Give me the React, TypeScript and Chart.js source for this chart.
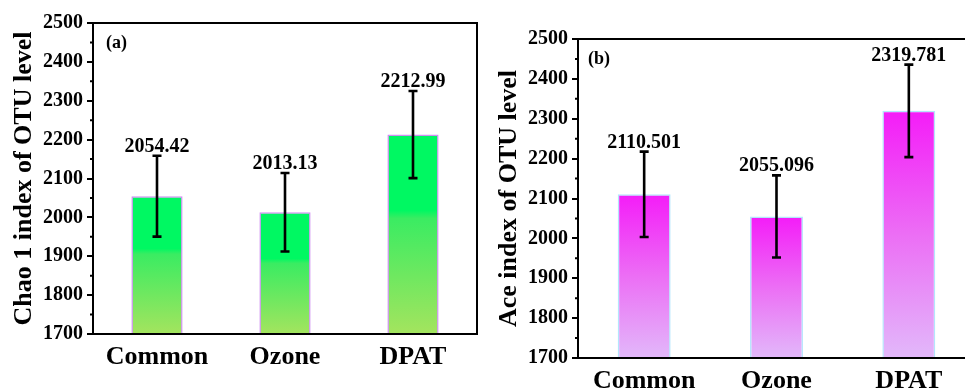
import React, { useEffect, useRef } from 'react';
import { Chart, registerables } from 'chart.js';
Chart.register(...registerables);

const categories = ['Common', 'Ozone', 'DPAT'];
const chaoValues = [2054.42, 2013.13, 2212.99];
const chaoErrors = [104, 101, 112];
const chaoLabels = ['2054.42', '2013.13', '2212.99'];
const aceValues = [2110.501, 2055.096, 2319.781];
const aceErrors = [107, 103, 116];
const aceLabels = ['2110.501', '2055.096', '2319.781'];
const yMin = 1700;
const yMax = 2500;
const yStep = 100;

const SERIF = "'Times New Roman', 'Liberation Serif', serif";

type PanelCfg = {
  values: number[];
  errors: number[];
  labels: string[];
  title: string;
  letter: string;
  letterDx: number;
  stops: [number, string][];
  border: string;
  padTop: number;
  padRight: number;
};

function makePlugin(cfg: PanelCfg) {
  return {
    id: 'panelExtras',
    afterDatasetsDraw(chart: any) {
      const { ctx, chartArea } = chart;
      const y = chart.scales.y;
      const meta = chart.getDatasetMeta(0);
      ctx.save();
      meta.data.forEach((bar: any, i: number) => {
        const cx = bar.x;
        const top = y.getPixelForValue(cfg.values[i] + cfg.errors[i]);
        const bot = y.getPixelForValue(cfg.values[i] - cfg.errors[i]);
        ctx.strokeStyle = '#000';
        ctx.lineWidth = 2.6;
        ctx.beginPath();
        ctx.moveTo(cx, top);
        ctx.lineTo(cx, bot);
        ctx.moveTo(cx - 4.5, top);
        ctx.lineTo(cx + 4.5, top);
        ctx.moveTo(cx - 4.5, bot);
        ctx.lineTo(cx + 4.5, bot);
        ctx.stroke();
        ctx.fillStyle = '#000';
        ctx.font = `bold 20px ${SERIF}`;
        ctx.textAlign = 'center';
        ctx.textBaseline = 'alphabetic';
        ctx.fillText(cfg.labels[i], cx, top - 4);
      });
      ctx.strokeStyle = '#000';
      ctx.lineWidth = 2;
      ctx.strokeRect(chartArea.left, chartArea.top, chartArea.right - chartArea.left, chartArea.bottom - chartArea.top);
      ctx.beginPath();
      for (let v = yMin + yStep / 2; v < yMax; v += yStep) {
        const py = y.getPixelForValue(v);
        ctx.moveTo(chartArea.left - 3, py);
        ctx.lineTo(chartArea.left, py);
      }
      ctx.stroke();
      ctx.font = `bold 18px ${SERIF}`;
      ctx.textAlign = 'left';
      ctx.textBaseline = 'middle';
      ctx.fillText(cfg.letter, chartArea.left + cfg.letterDx, chartArea.top + 20);
      ctx.restore();
    },
  };
}

function Panel({ cfg, left, width, height }: { cfg: PanelCfg; left: number; width: number; height: number }) {
  const ref = useRef<HTMLCanvasElement | null>(null);
  useEffect(() => {
    if (!ref.current) return;
    const chart = new Chart(ref.current, {
      type: 'bar',
      data: {
        labels: categories,
        datasets: [
          {
            data: cfg.values,
            barPercentage: 0.4,
            categoryPercentage: 1,
            borderWidth: 1.5,
            borderColor: cfg.border,
            backgroundColor: (c: any) => {
              const ch = c.chart;
              const area = ch.chartArea;
              if (!area || c.type !== 'data') return cfg.stops[0][1];
              const yTop = ch.scales.y.getPixelForValue(c.raw);
              const g = ch.ctx.createLinearGradient(0, yTop, 0, area.bottom);
              cfg.stops.forEach(([o, col]) => g.addColorStop(o, col));
              return g;
            },
          },
        ],
      },
      options: {
        responsive: false,
        animation: false,
        devicePixelRatio: 1,
        layout: { padding: { top: cfg.padTop, right: cfg.padRight, left: 0, bottom: 0 } },
        plugins: { legend: { display: false }, tooltip: { enabled: false } },
        scales: {
          x: {
            grid: { display: false },
            border: { display: false },
            ticks: { color: '#000', font: { family: SERIF, size: 26, weight: 'bold' }, padding: 0 },
            afterFit: (s: any) => {
              s.height = 54;
            },
          },
          y: {
            min: yMin,
            max: yMax,
            ticks: {
              stepSize: yStep,
              color: '#000',
              font: { family: SERIF, size: 20, weight: 'bold' },
              padding: 4,
              callback: (v: any) => String(v),
            },
            grid: { display: true, drawOnChartArea: false, drawTicks: true, tickLength: 6, color: '#000', lineWidth: 2 },
            border: { display: false },
            title: {
              display: true,
              text: cfg.title,
              color: '#000',
              font: { family: SERIF, size: 26, weight: 'bold', lineHeight: 1.2 },
              padding: { top: 9, bottom: 0 },
            },
            afterFit: (s: any) => {
              s.width = 93;
            },
          },
        },
      },
      plugins: [makePlugin(cfg)],
    } as any);
    return () => chart.destroy();
  }, [cfg]);
  return (
    <canvas
      ref={ref}
      width={width}
      height={height}
      style={{ position: 'absolute', left, top: 0, width, height }}
    />
  );
}

const chaoCfg: PanelCfg = {
  values: chaoValues,
  errors: chaoErrors,
  labels: chaoLabels,
  title: 'Chao 1 index of OTU level',
  letter: '(a)',
  letterDx: 13,
  stops: [
    [0, '#00f862'],
    [0.38, '#00f862'],
    [0.42, '#3aec62'],
    [1, '#a4e45e'],
  ],
  border: '#cf8ef2',
  padTop: 23,
  padRight: 8,
};

const aceCfg: PanelCfg = {
  values: aceValues,
  errors: aceErrors,
  labels: aceLabels,
  title: 'Ace index of OTU level',
  letter: '(b)',
  letterDx: 10,
  stops: [
    [0, '#f41cf8'],
    [0.5, '#ec6ef5'],
    [1, '#e2b8fa'],
  ],
  border: '#b4e6fc',
  padTop: 39,
  padRight: 0,
};

export default function App() {
  return (
    <div
      style={{
        position: 'fixed',
        left: 0,
        top: 0,
        width: 965,
        height: 388,
        overflow: 'hidden',
        background: '#fff',
      }}
    >
      <Panel cfg={chaoCfg} left={0} width={485} height={388} />
      <Panel cfg={aceCfg} left={485} width={490} height={412} />
    </div>
  );
}
